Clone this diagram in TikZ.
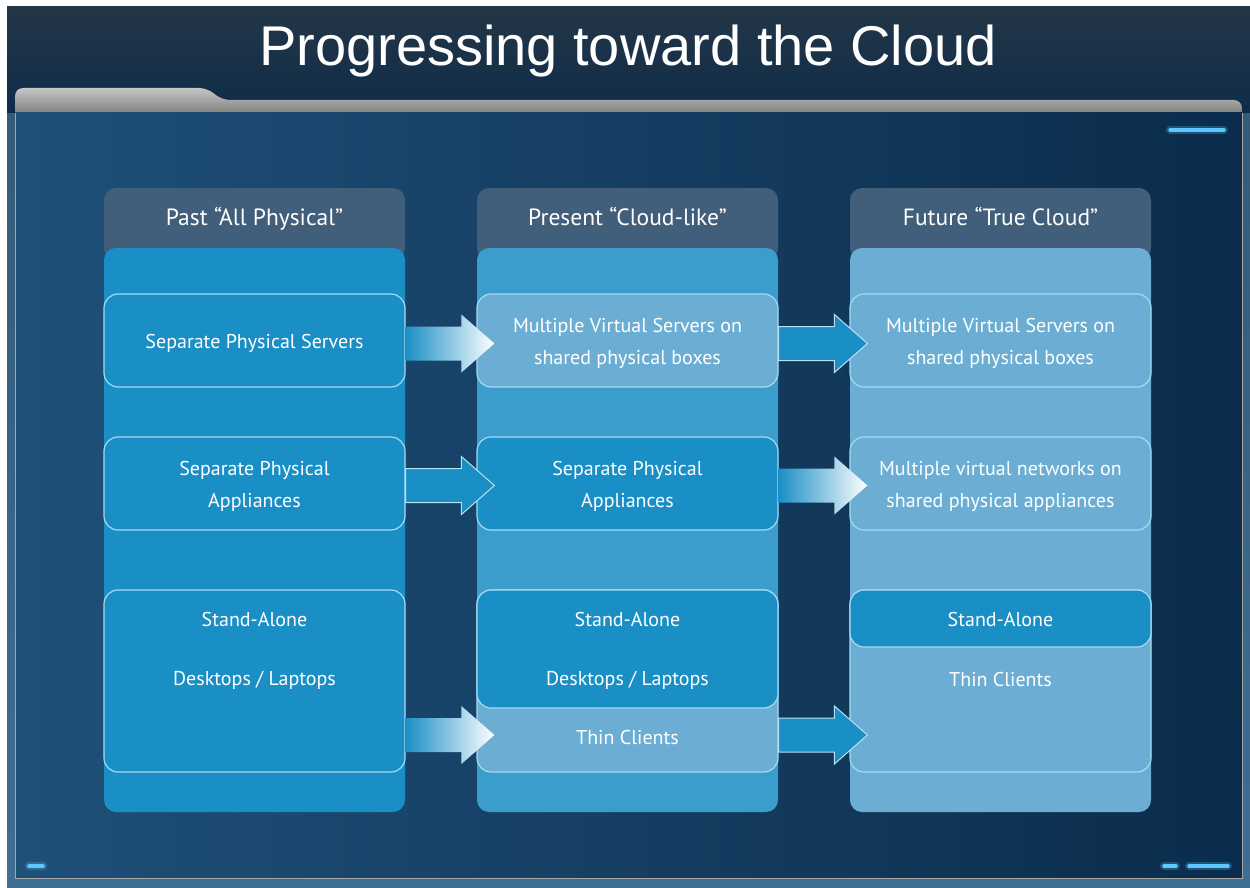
\documentclass[tikz,border=0pt]{standalone}
\usepackage{fontspec}
\setmainfont{PT Sans}
\newfontfamily\titlefont{Liberation Sans}
\usetikzlibrary{calc}
\definecolor{hdtop}{HTML}{243646}
\definecolor{hdmid}{HTML}{040A12}
\definecolor{hdbot}{HTML}{0E2C4A}
\definecolor{panL}{HTML}{1F5078}
\definecolor{panR}{HTML}{0B2C4C}
\definecolor{outbg}{HTML}{3F6E93}
\definecolor{colhd}{HTML}{415F7A}
\definecolor{cA}{HTML}{1A8FC5}
\definecolor{cB}{HTML}{3A9DCB}
\definecolor{cC}{HTML}{6CAED3}
\definecolor{bord}{HTML}{A6DAF3}
\definecolor{glowc}{HTML}{5CC8FF}
\tikzset{
  colbox/.style={rectangle, rounded corners=12pt, minimum width=301pt, inner sep=0pt},
  itembox/.style={rectangle, rounded corners=14pt, minimum width=301pt, inner sep=0pt, draw=bord, line width=1.2pt},
  lbl/.style={text=white, font=\fontsize{20}{32}\selectfont, align=center, inner sep=0pt},
  blbl/.style={lbl, yshift=-3pt},
  hlbl/.style={text=white, font=\fontsize{23.5}{27}\selectfont, inner sep=0pt, anchor=base},
  gradarrow/.style={left color=cA, middle color=white, right color=white},
  solidarrow/.style={fill=cA, draw=bord!80, line width=1pt},
  glowdash/.style={line cap=round, draw=glowc, line width=3.5pt}
}
\newcommand\flowarrow[4]{%
  \path[#1] let \p1=(#2.east |- #4), \p2=(#3.west |- #4) in
    (\x1,\y1-17pt) -- (\x2-15pt,\y1-17pt) -- (\x2-15pt,\y1-29pt) -- (\x2+18pt,\y1)
    -- (\x2-15pt,\y1+29pt) -- (\x2-15pt,\y1+17pt) -- (\x1,\y1+17pt) -- cycle;}
\begin{document}
\begin{tikzpicture}[x=1pt,y=-1pt]
\useasboundingbox (0,0) rectangle (1250,888);
\fill[white] (0,0) rectangle (1250,888);
% slide background
\shade[top color=outbg!80!black, bottom color=outbg] (7,7) rectangle (1250,888);
% header band
\shade[top color=hdtop, middle color=hdmid, bottom color=hdbot] (7,7) rectangle (1250,113);
% tab strip
\shade[top color=gray!45, bottom color=gray!75!black, rounded corners=8pt]
  (15,125) -- (15,88) -- (207,88) -- (222,100) -- (1242,100) -- (1242,125) -- cycle;
% panel
\shade[left color=panL, right color=panR] (15,113) rectangle (1242,878);
\draw[gray!70, line width=0.8pt] (15,113) -- (15,878) -- (1242,878) -- (1242,113);
% glow dashes
\draw[glowc, line width=8pt, opacity=0.25, line cap=round] (1170,130) -- (1224,130);
\draw[glowdash] (1170,130) -- (1224,130);
\draw[glowc, line width=8pt, opacity=0.25, line cap=round] (29,866) -- (43,866);
\draw[glowdash] (29,866) -- (43,866);
\draw[glowc, line width=8pt, opacity=0.25, line cap=round] (1164,866) -- (1176,866);
\draw[glowdash] (1164,866) -- (1176,866);
\draw[glowc, line width=8pt, opacity=0.25, line cap=round] (1189,866) -- (1228,866);
\draw[glowdash] (1189,866) -- (1228,866);
% title
\node[text=white, font=\titlefont\fontsize{56}{60}\selectfont, inner sep=0pt] (title) at (628,51) {Progressing toward the Cloud};
% columns
\foreach \c/\x/\col in {1/254.5/cA, 2/627.5/cB, 3/1000.5/cC} {
  \node[colbox, fill=colhd, minimum height=72pt] (h\c) at (\x,224) {};
  \node[colbox, fill=\col, minimum height=564pt] (col\c) at (\x,530) {};
}
\node[hlbl] (ht1) at (254.5,225) {Past “All Physical”};
\node[hlbl] (ht2) at (627.5,225) {Present “Cloud-like”};
\node[hlbl] (ht3) at (1000.5,225) {Future “True Cloud”};
% row 1
\node[itembox, fill=cA, minimum height=93pt] (a1) at (254.5,340.5) {};
\node[itembox, fill=cC, minimum height=93pt] (b1) at (627.5,340.5) {};
\node[itembox, fill=cC, minimum height=93pt] (c1) at (1000.5,340.5) {};
\node[blbl] (ta1) at (a1) {Separate Physical Servers};
\node[blbl] (tb1) at (b1) {Multiple Virtual Servers on\\shared physical boxes};
\node[blbl] (tc1) at (c1) {Multiple Virtual Servers on\\shared physical boxes};
% row 2
\node[itembox, fill=cA, minimum height=93pt] (a2) at (254.5,483.5) {};
\node[itembox, fill=cA, minimum height=93pt] (b2) at (627.5,483.5) {};
\node[itembox, fill=cC, minimum height=93pt] (c2) at (1000.5,483.5) {};
\node[blbl] (ta2) at (a2) {Separate Physical\\Appliances};
\node[blbl] (tb2) at (b2) {Separate Physical\\Appliances};
\node[blbl] (tc2) at (c2) {Multiple virtual networks on\\shared physical appliances};
% row 3
\node[itembox, fill=cA, minimum height=182pt] (a3) at (254.5,681) {};
\node[itembox, fill=cC, minimum height=182pt] (b3) at (627.5,681) {};
\node[itembox, fill=cA, minimum height=118pt] (b3d) at (627.5,649) {};
\node[itembox, fill=cC, minimum height=182pt] (c3) at (1000.5,681) {};
\node[itembox, fill=cA, minimum height=57pt] (c3d) at (1000.5,618.5) {};
\node[lbl] (ta3a) at (254.5,619) {Stand-Alone};
\node[lbl] (ta3b) at (254.5,680) {Desktops / Laptops};
\node[lbl] (tb3a) at (627.5,619) {Stand-Alone};
\node[lbl] (tb3b) at (627.5,680) {Desktops / Laptops};
\node[lbl] (tb3c) at (627.5,737) {Thin Clients};
\node[lbl] (tc3a) at (1000.5,619) {Stand-Alone};
\node[lbl] (tc3b) at (1000.5,679) {Thin Clients};
% arrow levels
\coordinate (r1) at (0,343.5);
\coordinate (r2) at (0,485.5);
\coordinate (r3) at (0,735);
\flowarrow{gradarrow}{a1}{b1}{r1}
\flowarrow{solidarrow}{b1}{c1}{r1}
\flowarrow{solidarrow}{a2}{b2}{r2}
\flowarrow{gradarrow}{b2}{c2}{r2}
\flowarrow{gradarrow}{a3}{b3}{r3}
\flowarrow{solidarrow}{b3}{c3}{r3}
\end{tikzpicture}
\end{document}
